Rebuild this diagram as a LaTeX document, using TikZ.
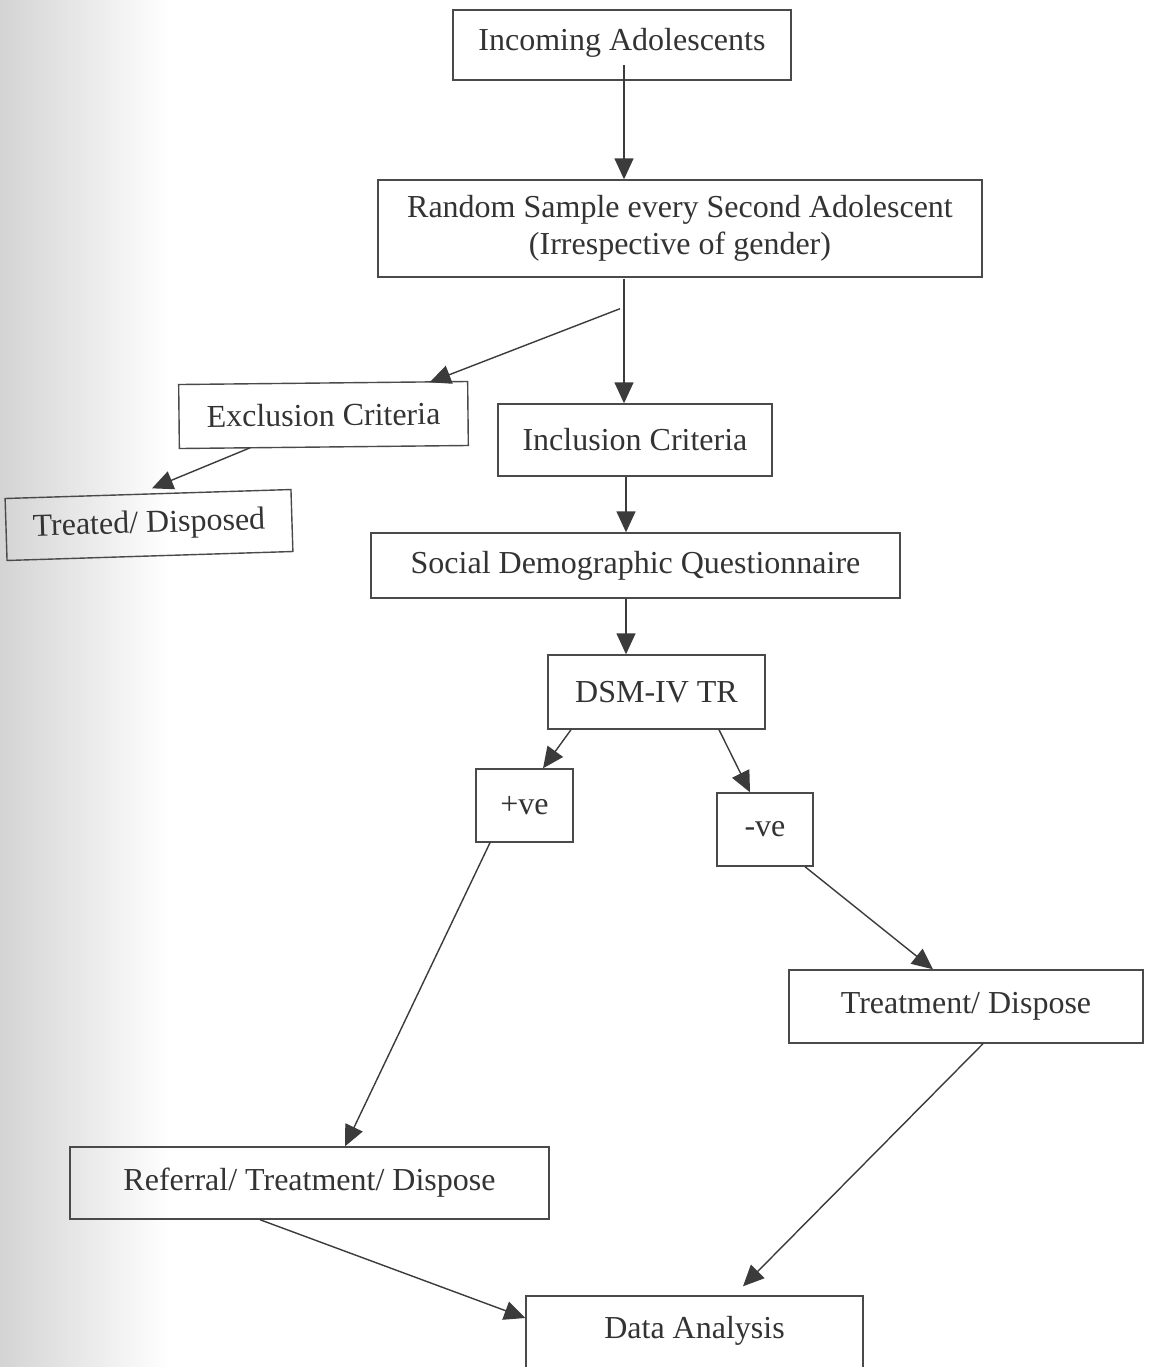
\documentclass[tikz,border=0pt]{standalone}
\usepackage{fontspec}
\setmainfont{Liberation Serif}
\usetikzlibrary{calc,arrows.meta}
\definecolor{ink}{HTML}{333333}
\definecolor{edge}{HTML}{4A4A4A}
\begin{document}
\begin{tikzpicture}[x=0.5pt,y=-0.5pt,
  box/.style={draw=edge,line width=0.7pt,rectangle,inner sep=0pt,text=ink,
    font=\fontsize{16}{18.5}\selectfont,align=center},
  arr/.style={draw=edge!80!black,line width=0.7pt,-{Triangle[length=10.5pt,width=9.5pt]}}]
\useasboundingbox (0,0) rectangle (1150,1367);
\fill[white] (0,0) rectangle (1150,1367);
\shade[left color=black!17,right color=white] (0,0) rectangle (170,1367);
\begin{scope}
\clip (0,0) rectangle (1150,1367);
\node[box,minimum width=169pt,minimum height=35pt,text depth=6pt] (inc) at (622,45) {Incoming Adolescents};
\node[box,minimum width=302pt,minimum height=48.5pt] (rand) at (680,228.5) {Random Sample every Second Adolescent\\(Irrespective of gender)};
\node[box,minimum width=144.5pt,minimum height=32pt,rotate=0.6] (excl) at (323.5,415) {Exclusion Criteria};
\node[box,minimum width=137pt,minimum height=36pt] (incl) at (635,440) {Inclusion Criteria};
\node[box,minimum width=143pt,minimum height=31pt,rotate=1.8] (treated) at (149,525) {Treated/ Disposed};
\node[box,minimum width=264.5pt,minimum height=32.5pt] (soc) at (635.5,565.5) {Social Demographic Questionnaire};
\node[box,minimum width=108.5pt,minimum height=37pt] (dsm) at (656.5,692) {DSM-IV TR};
\node[box,minimum width=48.5pt,minimum height=36.5pt] (pos) at (524.5,805.5) {+ve};
\node[box,minimum width=48pt,minimum height=36.5pt] (neg) at (765,829.5) {-ve};
\node[box,minimum width=177pt,minimum height=36.5pt] (treat) at (966,1006.5) {Treatment/ Dispose};
\node[box,minimum width=239.5pt,minimum height=36pt] (ref) at (309.5,1183) {Referral/ Treatment/ Dispose};
\node[box,minimum width=168.5pt,minimum height=39pt,text depth=8pt] (data) at (694.5,1335) {Data Analysis};

\coordinate (s1) at ($(inc.center)+(2,20)$);
\draw[arr] (s1) -- ($(rand.north)+(-56,0)$);
\coordinate (s2) at ($(rand.south)+(-56,1)$);
\draw[arr] (s2) -- ($(incl.north)+(-11,0)$);
\coordinate (br) at ($(rand.south)+(-60,31)$);
\draw[arr] (br) -- ($(excl.north)+(106.5,0)$);
\draw[arr] ($(excl.south)+(-73.5,0)$) -- ($(treated.north)+(4,-5)$);
\draw[arr] ($(incl.south)+(-9,0)$) -- ($(soc.north)+(-9.5,0)$);
\draw[arr] ($(soc.south)+(-9.5,0)$) -- ($(dsm.north)+(-30.5,0)$);
\draw[arr] ($(dsm.south)+(-85.5,0)$) -- ($(pos.north)+(18.5,0)$);
\draw[arr] ($(dsm.south)+(62.5,0)$) -- ($(neg.north)+(-15,0)$);
\draw[arr] ($(pos.south)+(-34.5,0)$) -- ($(ref.north)+(35.5,0)$);
\draw[arr] ($(neg.south)+(40,0)$) -- ($(treat.north)+(-33,0)$);
\draw[arr] ($(treat.south)+(17,0)$) -- ($(data.north)+(48.5,-9)$);
\draw[arr] ($(ref.south)+(-49.5,0)$) -- ($(data.west)+(0,-17)$);
\end{scope}
\end{tikzpicture}
\end{document}
